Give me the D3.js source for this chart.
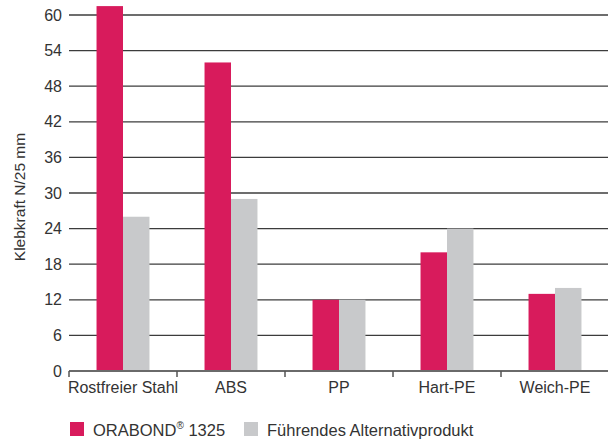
<!DOCTYPE html>
<html><head><meta charset="utf-8">
<script src="https://cdn.jsdelivr.net/npm/d3@7"></script>
<style>html,body{margin:0;padding:0;background:#fff;}svg{display:block;}</style>
</head><body>
<svg id="c" width="608" height="441"></svg>
<script>
const categories = ["Rostfreier Stahl", "ABS", "PP", "Hart-PE", "Weich-PE"];
const seriesNames = ["ORABOND® 1325", "Führendes Alternativprodukt"];
const orabond = [61.5, 52, 12, 20, 13];
const alternativ = [26, 29, 12, 24, 14];
const yTicks = [0, 6, 12, 18, 24, 30, 36, 42, 48, 54, 60];
const colors = ["#d81b5c", "#c8c9cb"];

const svg = d3.select("#c");
const font = "Liberation Sans, Arial, sans-serif";
const x0 = 69, x1 = 609, yTop = 15, yBot = 371;

const x = d3.scaleBand().domain(categories).range([x0, x1]).padding(0);
const y = d3.scaleLinear().domain([0, 60]).range([yBot, yTop]);
const xs = d3.scaleBand().domain([0, 1]).range([0, x.bandwidth()]).paddingInner(0).paddingOuter(1.04);

// gridlines
svg.append("g").selectAll("line").data(yTicks.filter(t => t > 0)).join("line")
  .attr("x1", x0).attr("x2", x1).attr("y1", d => y(d)).attr("y2", d => y(d))
  .attr("stroke", "#3c3c3c").attr("stroke-width", 1.3);

// bars
const data = categories.map((c, i) => ({c, v: [orabond[i], alternativ[i]]}));
const g = svg.append("g");
data.forEach(d => {
  d.v.forEach((v, j) => {
    g.append("rect").attr("x", x(d.c) + xs(j)).attr("width", xs.bandwidth())
      .attr("y", Math.max(y(v), 5)).attr("height", yBot - Math.max(y(v), 5))
      .attr("fill", colors[j]);
  });
});

// y axis labels
const ya = svg.append("g").attr("transform", `translate(${x0 - 7},0)`)
  .call(d3.axisLeft(y).tickValues(yTicks).tickSize(0).tickPadding(0));
ya.select(".domain").remove();
ya.selectAll("text").attr("font-family", font).attr("font-size", 16).attr("fill", "#333");

// x axis
const xa = svg.append("g").attr("transform", `translate(0,${yBot})`)
  .call(d3.axisBottom(x).tickSize(0).tickPadding(11));
xa.select(".domain").remove();
xa.selectAll("text").attr("font-family", font).attr("font-size", 16).attr("fill", "#333");
svg.append("line").attr("x1", x0).attr("x2", x1).attr("y1", yBot).attr("y2", yBot)
  .attr("stroke", "#6a6a6a").attr("stroke-width", 2);
svg.append("g").selectAll("line").data(categories).join("line")
  .attr("x1", d => x(d)).attr("x2", d => x(d)).attr("y1", yBot).attr("y2", yBot + 6)
  .attr("stroke", "#555").attr("stroke-width", 1.5);

// y title
svg.append("text").attr("transform", `translate(25,${(yTop + yBot) / 2 + 4}) rotate(-90)`)
  .attr("text-anchor", "middle").attr("font-family", font).attr("font-size", 15.5).attr("fill", "#333")
  .text("Klebkraft N/25 mm");

// legend
const lg = svg.append("g");
const lx = [70, 244];
seriesNames.forEach((n, i) => {
  lg.append("rect").attr("x", lx[i]).attr("y", 422).attr("width", 14).attr("height", 14).attr("fill", colors[i]);
  const t = lg.append("text").attr("x", lx[i] + 23).attr("y", 436).attr("font-family", font)
    .attr("font-size", 16.5).attr("fill", "#333");
  if (n.includes("®")) {
    const parts = n.split("®");
    t.append("tspan").text(parts[0]);
    t.append("tspan").attr("font-size", 10).attr("dy", -7).text("®");
    t.append("tspan").attr("dy", 7).text(parts[1]);
  } else t.text(n);
});
</script>
</body></html>
